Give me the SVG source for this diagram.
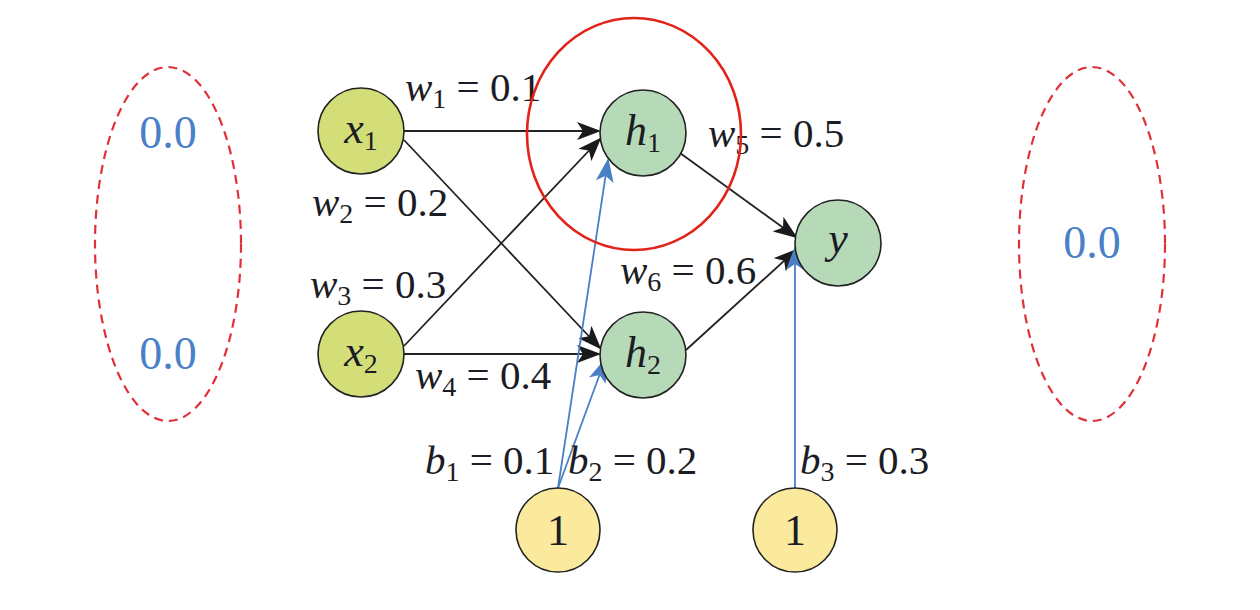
<svg xmlns="http://www.w3.org/2000/svg" width="1260" height="610" viewBox="0 0 1260 610">
<style>
.node{stroke:#222;stroke-width:1.6}
.xin{fill:#d3de78}
.hid{fill:#b6dab8}
.bias{fill:#fbea9e}
.lbl{font-family:"Liberation Serif","Times New Roman",serif;font-size:41px;fill:#1c1c24}
.nl{font-family:"Liberation Serif","Times New Roman",serif;font-size:44px;fill:#1c1c24;text-anchor:middle}
.it{font-style:italic}
.sub{font-size:28px}
.val{font-family:"Liberation Serif","Times New Roman",serif;font-size:46px;fill:#4a80c8;text-anchor:middle}
.e{stroke:#222;stroke-width:1.8;fill:none}
.b{stroke:#4a7fc6;stroke-width:1.8;fill:none}
.dash{fill:none;stroke:#e0303a;stroke-width:2.2;stroke-dasharray:9 6}
</style>
<defs>
<marker id="ah" viewBox="0 0 24 18" refX="22" refY="9" markerWidth="24" markerHeight="18" markerUnits="userSpaceOnUse" orient="auto">
<path d="M0,0 L24,9 L0,18 L6,9 Z" fill="#1a1a1a"/>
</marker>
<marker id="bh" viewBox="0 0 24 18" refX="22" refY="9" markerWidth="24" markerHeight="18" markerUnits="userSpaceOnUse" orient="auto">
<path d="M0,0 L24,9 L0,18 L6,9 Z" fill="#4a7fc6"/>
</marker>
</defs>
<rect width="1260" height="610" fill="#fff"/>
<g id="connectors">
<line class="e" x1="404" y1="131" x2="599" y2="131" marker-end="url(#ah)"/>
<line class="e" x1="404" y1="140" x2="600" y2="348" marker-end="url(#ah)"/>
<line class="e" x1="404" y1="346" x2="600" y2="139" marker-end="url(#ah)"/>
<line class="e" x1="404" y1="354" x2="599" y2="354" marker-end="url(#ah)"/>
<line class="e" x1="680" y1="153" x2="796" y2="237" marker-end="url(#ah)"/>
<line class="e" x1="686" y1="350" x2="796" y2="250" marker-end="url(#ah)"/>
<line class="b" x1="558" y1="488" x2="608" y2="160" marker-end="url(#bh)"/>
<line class="b" x1="558" y1="488" x2="605" y2="360" marker-end="url(#bh)"/>
<line class="b" x1="795" y1="488" x2="795" y2="248" marker-end="url(#bh)"/>
</g>
<g id="memory-left">
<ellipse class="dash" cx="168" cy="244" rx="73" ry="177"/>
<text class="val" x="168" y="148">0.0</text>
<text class="val" x="168" y="369">0.0</text>
</g>
<g id="memory-right">
<ellipse class="dash" cx="1092" cy="244" rx="73" ry="177"/>
<text class="val" x="1092" y="258">0.0</text>
</g>
<g id="x1"><circle class="node xin" cx="361" cy="131" r="43"/><text class="nl" x="361" y="143"><tspan class="it">x</tspan><tspan class="sub" dy="7">1</tspan></text></g>
<g id="x2"><circle class="node xin" cx="361" cy="354" r="43"/><text class="nl" x="361" y="366"><tspan class="it">x</tspan><tspan class="sub" dy="7">2</tspan></text></g>
<g id="h1"><circle class="node hid" cx="643" cy="133" r="43"/><text class="nl" x="643" y="145"><tspan class="it">h</tspan><tspan class="sub" dy="7">1</tspan></text></g>
<g id="h2"><circle class="node hid" cx="643" cy="355" r="43"/><text class="nl" x="643" y="367"><tspan class="it">h</tspan><tspan class="sub" dy="7">2</tspan></text></g>
<g id="y"><circle class="node hid" cx="838" cy="243" r="43"/><text class="nl it" x="838" y="253">y</text></g>
<g id="bias1"><circle class="node bias" cx="558" cy="530" r="42"/><text class="nl" x="558" y="545">1</text></g>
<g id="bias2"><circle class="node bias" cx="795" cy="530" r="42"/><text class="nl" x="795" y="545">1</text></g>
<g id="labels">
<text class="lbl" x="405" y="101"><tspan class="it">w</tspan><tspan class="sub" dy="7">1</tspan><tspan dy="-7"> = 0.1</tspan></text>
<text class="lbl" x="312" y="216"><tspan class="it">w</tspan><tspan class="sub" dy="7">2</tspan><tspan dy="-7"> = 0.2</tspan></text>
<text class="lbl" x="310" y="298"><tspan class="it">w</tspan><tspan class="sub" dy="7">3</tspan><tspan dy="-7"> = 0.3</tspan></text>
<text class="lbl" x="415" y="389"><tspan class="it">w</tspan><tspan class="sub" dy="7">4</tspan><tspan dy="-7"> = 0.4</tspan></text>
<text class="lbl" x="708" y="147"><tspan class="it">w</tspan><tspan class="sub" dy="7">5</tspan><tspan dy="-7"> = 0.5</tspan></text>
<text class="lbl" x="620" y="284"><tspan class="it">w</tspan><tspan class="sub" dy="7">6</tspan><tspan dy="-7"> = 0.6</tspan></text>
<text class="lbl" x="425" y="474"><tspan class="it">b</tspan><tspan class="sub" dy="7">1</tspan><tspan dy="-7"> = 0.1</tspan></text>
<text class="lbl" x="568" y="474"><tspan class="it">b</tspan><tspan class="sub" dy="7">2</tspan><tspan dy="-7"> = 0.2</tspan></text>
<text class="lbl" x="800" y="474"><tspan class="it">b</tspan><tspan class="sub" dy="7">3</tspan><tspan dy="-7"> = 0.3</tspan></text>
</g>
<g id="focus">
<ellipse cx="634" cy="134" rx="107" ry="116" fill="none" stroke="#e2231a" stroke-width="2.6"/>
</g>
</svg>
